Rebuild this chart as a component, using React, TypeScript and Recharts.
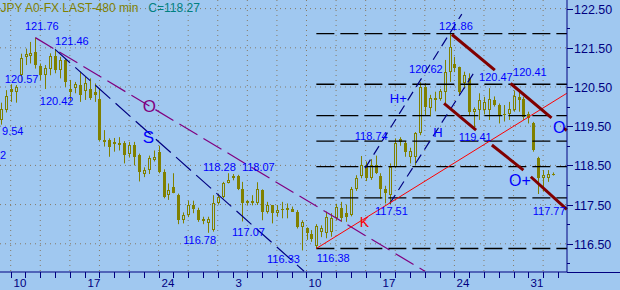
import React from 'react';
import {
  ComposedChart,
  Bar,
  XAxis,
  YAxis,
  CartesianGrid,
  ReferenceLine,
  ReferenceDot,
} from 'recharts';

// 8-hour bars; index 0 is the first bar of Monday 10 Feb
const barStart = -2;
const opens = [
  119.66, 119.92, 120.46, 120.36, 120.8, 121.26, 121.28, 121.4, 121.03, 120.8, 120.96, 121.3, 120.93,
  121.19, 120.45, 120.47, 120.55, 120.4, 120.46, 120.38, 120.19, 119.15, 119.15, 119.05, 119.08, 119.06,
  118.8, 119.02, 118.77, 118.28, 118.38, 118.65, 118.85, 118.34, 117.74, 117.95, 117.74, 117.1, 117.23,
  117.49, 117.36, 117.13, 117.02, 116.85, 117.53, 117.7, 118.06, 118.17, 118.24, 117.91, 117.58, 117.55,
  117.55, 117.87, 117.32, 117.49, 117.28, 117.38, 117.4, 117.4, 117.32, 116.93, 116.89, 116.74, 116.45,
  116.8, 116.77, 116.8, 117.15, 117.42, 117.28, 117.23, 117.91, 118.24, 118.51, 118.17, 118.52, 118.22,
  117.91, 117.74, 118.47, 119.17, 119.06, 118.72, 118.72, 119.32, 120.51, 119.97, 120.23, 120.19, 120.38,
  120.89, 121.08, 121.02, 120.59, 120.72, 119.87, 119.91, 119.91, 119.91, 120.17, 120.04, 119.8, 119.8,
  119.91, 120.25, 120.19, 119.8, 119.57, 118.68, 118.17, 118.17, 118.28,
];
const highs = [
  120.1, 120.42, 120.57, 120.55, 121.35, 121.48, 121.65, 121.76, 121.1, 121.06, 121.36, 121.46, 121.27,
  121.22, 120.68, 120.63, 120.89, 120.76, 120.72, 120.59, 120.46, 119.4, 119.19, 119.2, 119.22, 119.12,
  119.1, 119.1, 118.8, 118.45, 118.75, 118.88, 119.0, 118.4, 118.04, 118.3, 117.78, 117.3, 117.6,
  117.6, 117.42, 117.19, 117.19, 117.74, 117.78, 118.08, 118.3, 118.28, 118.26, 118.08, 117.62, 117.74,
  118.07, 117.89, 117.57, 117.49, 117.49, 117.57, 117.53, 117.45, 117.36, 117.1, 116.92, 116.85, 117.0,
  116.97, 117.32, 117.28, 117.52, 117.57, 117.5, 117.95, 118.25, 118.74, 118.6, 118.66, 118.75, 118.3,
  117.98, 118.55, 119.19, 119.22, 119.12, 118.95, 119.35, 120.62, 120.6, 120.3, 120.38, 120.45, 121.19,
  121.86, 121.27, 121.02, 120.89, 120.85, 119.98, 120.34, 120.25, 120.47, 120.26, 120.08, 120.04, 120.12,
  120.41, 120.38, 120.25, 119.87, 119.61, 118.72, 118.38, 118.38, 118.32,
];
const lows = [
  119.54, 119.85, 120.12, 120.1, 120.63, 121.06, 121.1, 120.97, 120.68, 120.45, 120.8, 120.85, 120.72,
  120.5, 120.12, 120.34, 120.12, 120.17, 120.17, 120.12, 119.11, 118.98, 118.72, 118.85, 118.88, 118.55,
  118.7, 118.5, 118.09, 118.2, 118.28, 118.6, 118.3, 117.66, 117.62, 117.79, 117.0, 117.02, 117.18,
  117.28, 117.06, 117.0, 116.78, 116.81, 117.5, 117.66, 118.04, 118.12, 117.87, 117.07, 117.49, 117.48,
  117.49, 117.1, 117.27, 117.02, 117.19, 117.15, 117.15, 117.32, 116.89, 116.33, 116.6, 116.55, 116.38,
  116.67, 116.64, 116.68, 117.1, 117.06, 117.06, 117.2, 117.85, 118.17, 118.1, 118.13, 118.28, 117.65,
  117.53, 117.51, 118.43, 119.0, 118.72, 118.55, 118.51, 119.27, 119.78, 119.75, 119.88, 120.15, 120.04,
  120.63, 120.88, 120.3, 120.46, 119.78, 119.41, 119.66, 119.8, 119.66, 120.0, 119.57, 119.62, 119.66,
  119.87, 119.87, 119.66, 119.57, 118.85, 117.77, 117.83, 118.08, 118.24,
];
const closes = [
  119.95, 120.28, 120.36, 120.5, 121.23, 121.35, 121.36, 121.05, 120.8, 120.99, 121.3, 120.93, 121.19,
  120.63, 120.38, 120.57, 120.29, 120.6, 120.21, 120.29, 119.15, 119.09, 118.98, 119.1, 119.02, 118.76,
  119.02, 118.72, 118.34, 118.37, 118.68, 118.72, 118.34, 117.7, 117.87, 117.8, 117.1, 117.23, 117.49,
  117.4, 117.1, 117.07, 117.12, 117.53, 117.7, 118.04, 118.12, 118.24, 117.89, 117.53, 117.54, 117.58,
  117.89, 117.32, 117.49, 117.28, 117.36, 117.38, 117.42, 117.32, 116.93, 117.06, 116.77, 116.62, 116.95,
  116.9, 117.19, 117.15, 117.45, 117.17, 117.19, 117.91, 118.17, 118.51, 118.17, 118.5, 118.3, 117.91,
  117.79, 118.47, 119.06, 119.09, 118.85, 118.87, 119.32, 120.5, 120.0, 120.21, 120.17, 120.4, 120.89,
  121.53, 120.99, 120.38, 120.8, 119.87, 119.94, 120.17, 120.12, 120.19, 120.04, 119.78, 119.78, 119.94,
  120.28, 120.17, 119.74, 119.7, 118.89, 118.17, 118.25, 118.28, 118.27,
];

const weekLabels = ['10', '17', '24', '3', '10', '17', '24', '31'];
const dayTicks = Array.from({ length: 38 }, (_, k) => k * 3);
const priceTicks = [116, 116.5, 117, 117.5, 118, 118.5, 119, 119.5, 120, 120.5, 121, 121.5, 122, 122.5];
const gridPrices = [116.5, 117.5, 118.5, 119.5, 120.5, 121.5, 122.5];
const gridBars = Array.from({ length: 19 }, (_, k) => k * 6);
const fibLevels = [121.86, 120.57, 119.77, 119.12, 118.47, 117.67, 116.38];

// [bar1, price1, bar2, price2]
const oLine = [5, 121.76, 84, 115.8];
const sLine = [9, 121.46, 59.5, 115.8];
const kLine = [62, 116.38, 112.8, 120.34];
const hPlusLine = [71.9, 118.43, 91.5, 122.36];
const hLine = [76.9, 117.53, 94.4, 120.95];
const channelLines = [
  [89.5, 121.84, 98.2, 120.93],
  [87.9, 120.08, 94.4, 119.4],
  [101.4, 120.59, 109.7, 119.71],
  [112.2, 119.45, 112.8, 119.39],
  [97.6, 119.02, 104, 118.38],
  [105.5, 118.21, 112.8, 117.38],
];

// [text, bar, price] of the blue price notes (left end, baseline)
const priceNotes: [string, number, number][] = [
  ['121.76', 2.9, 121.95],
  ['121.46', 9.0, 121.57],
  ['120.57', -1.2, 120.6],
  ['120.42', 5.9, 120.04],
  ['9.54', -1.75, 119.27],
  ['2', -2.17, 118.66],
  ['118.28', 39.0, 118.35],
  ['118.07', 46.9, 118.35],
  ['116.78', 35.0, 116.49],
  ['117.07', 44.9, 116.7],
  ['116.33', 52.0, 116.01],
  ['116.38', 62.1, 116.03],
  ['117.51', 73.9, 117.23],
  ['118.74', 69.8, 119.15],
  ['120.62', 80.8, 120.85],
  ['121.86', 86.9, 121.95],
  ['120.47', 95.0, 120.65],
  ['120.41', 101.9, 120.78],
  ['119.41', 90.9, 119.12],
  ['117.77', 105.9, 117.23],
];
// [text, bar, price, colour, size]
const markNotes: [string, number, number, string, number][] = [
  ['O', 26.8, 119.86, '#800080', 17],
  ['S', 26.8, 119.07, '#0000ff', 17],
  ['H+', 76.9, 120.09, '#0000ff', 13],
  ['H', 85.7, 119.22, '#0000ff', 13],
  ['O+', 101.1, 117.97, '#0000ff', 16],
  ['O', 110.0, 119.32, '#0000ff', 16],
  ['K', 70.8, 116.92, '#ff0000', 14],
];

const X_MIN = -2.17;
const X_MAX = 112.84;
const Y_MIN = 115.78;
const Y_MAX = 122.72;

const BG = '#a0c8f0';
const OLIVE = '#808000';
const NAVY = '#000080';
const FONT = '"Liberation Sans", Arial, sans-serif';

const bars = opens.map((o, k) => ({
  i: barStart + k,
  range: [lows[k], highs[k]],
  o,
  h: highs[k],
  l: lows[k],
  c: closes[k],
}));

function Candle(props: any) {
  const { x, y, width, height, payload } = props;
  const { o, h, l, c } = payload;
  const pc = Math.round(x + width / 2);
  const span = h - l || 1;
  const toY = (v: number) => y + ((h - v) / span) * height;
  const top = Math.round(toY(Math.max(o, c)));
  const bot = Math.round(toY(Math.min(o, c)));
  const up = c > o;
  return (
    <g>
      <line x1={pc + 0.5} x2={pc + 0.5} y1={y} y2={y + height} stroke={OLIVE} strokeWidth={1} />
      {up ? (
        <rect x={pc - 0.5} y={top + 0.5} width={2} height={Math.max(bot - top - 1, 1)} fill={BG} stroke={OLIVE} strokeWidth={1} />
      ) : (
        <rect x={pc - 1} y={top} width={3} height={Math.max(bot - top, 1)} fill={OLIVE} />
      )}
    </g>
  );
}

function DayTick(props: any) {
  const { x, y, payload } = props;
  const v = payload.value as number;
  const label = v % 15 === 0 ? weekLabels[v / 15] : null;
  const px = Math.round(x) + 0.5;
  return (
    <g>
      <line x1={px} x2={px} y1={y} y2={y + 6} stroke={NAVY} />
      {label && (
        <text x={px + 2} y={y + 15} fill={NAVY} fontSize={11.5} fontFamily={FONT}>
          {label}
        </text>
      )}
    </g>
  );
}

function PriceTick(props: any) {
  const { x, y, payload } = props;
  const v = payload.value as number;
  const major = Math.round(v * 2) % 2 === 1;
  const py = Math.round(y) + 0.5;
  return (
    <g>
      <line x1={x} x2={x + (major ? 6 : 3)} y1={py} y2={py} stroke={NAVY} />
      {major && (
        <text x={x + 7} y={py} dy="0.36em" fill={NAVY} fontSize={12.5} fontFamily={FONT}>
          {v.toFixed(2)}
        </text>
      )}
    </g>
  );
}

const seg = (s: number[]) => [
  { x: s[0], y: s[1] },
  { x: s[2], y: s[3] },
];

export default function App() {
  return (
    <div style={{ position: 'absolute', left: 0, top: 0, width: 620, height: 290, background: BG, overflow: 'hidden' }}>
      <ComposedChart width={620} height={290} data={bars} margin={{ top: 0, right: 0, bottom: 0, left: 0 }}>
        <CartesianGrid
          stroke="#857a66"
          strokeDasharray="1 4"
          horizontalValues={gridPrices}
          verticalValues={gridBars}
        />
        <XAxis
          dataKey="i"
          type="number"
          domain={[X_MIN, X_MAX]}
          allowDataOverflow
          ticks={dayTicks}
          interval={0}
          height={18}
          padding={{ left: 0, right: 0 }}
          axisLine={{ stroke: NAVY }}
          tickLine={false}
          tickSize={0}
          tickMargin={0}
          tick={<DayTick />}
        />
        <YAxis
          orientation="right"
          type="number"
          domain={[Y_MIN, Y_MAX]}
          allowDataOverflow
          ticks={priceTicks}
          interval={0}
          width={53}
          axisLine={{ stroke: NAVY }}
          tickLine={false}
          tickSize={0}
          tickMargin={0}
          tick={<PriceTick />}
        />
        <Bar dataKey="range" barSize={3} shape={<Candle />} isAnimationActive={false} />

        {fibLevels.map((lv) => (
          <ReferenceLine
            key={lv}
            segment={[{ x: 62, y: lv }, { x: X_MAX, y: lv }]}
            stroke="#000000"
            strokeWidth={1.3}
            strokeDasharray="18 6"
          />
        ))}
        <ReferenceLine segment={seg(oLine)} stroke="#800080" strokeWidth={1.2} strokeDasharray="21 7" />
        <ReferenceLine segment={seg(sLine)} stroke={NAVY} strokeWidth={1.2} strokeDasharray="20 7" />
        <ReferenceLine segment={seg(hPlusLine)} stroke={NAVY} strokeWidth={1.2} strokeDasharray="10 6" />
        <ReferenceLine segment={seg(hLine)} stroke={NAVY} strokeWidth={1.2} strokeDasharray="10 6" />
        <ReferenceLine segment={seg(kLine)} stroke="#ff0000" strokeWidth={1} />
        {channelLines.map((s, k) => (
          <ReferenceLine key={k} segment={seg(s)} stroke="#800000" strokeWidth={3} />
        ))}

        {priceNotes.map(([t, b, p], k) => (
          <ReferenceDot
            key={'p' + k}
            x={b}
            y={p}
            r={0}
            shape={(d: any) => (
              <text x={d.cx} y={d.cy} fill="#0000ff" fontSize={11} fontFamily={FONT}>
                {t}
              </text>
            )}
          />
        ))}
        {markNotes.map(([t, b, p, col, sz], k) => (
          <ReferenceDot
            key={'m' + k}
            x={b}
            y={p}
            r={0}
            shape={(d: any) => (
              <text x={d.cx} y={d.cy} fill={col} fontSize={sz} fontFamily={FONT}>
                {t}
              </text>
            )}
          />
        ))}
        <ReferenceDot
          x={X_MIN}
          y={122.41}
          r={0}
          shape={(d: any) => (
            <text x={d.cx + 0.5} y={d.cy} fontSize={12} fontFamily={FONT}>
              <tspan fill={OLIVE}>JPY A0-FX LAST-480 min</tspan>
              <tspan fill="#008080" dx={10}>C=118.27</tspan>
            </text>
          )}
        />
      </ComposedChart>
      <div style={{ position: 'absolute', left: 567, top: 272, width: 53, height: 1, background: NAVY }} />
    </div>
  );
}
